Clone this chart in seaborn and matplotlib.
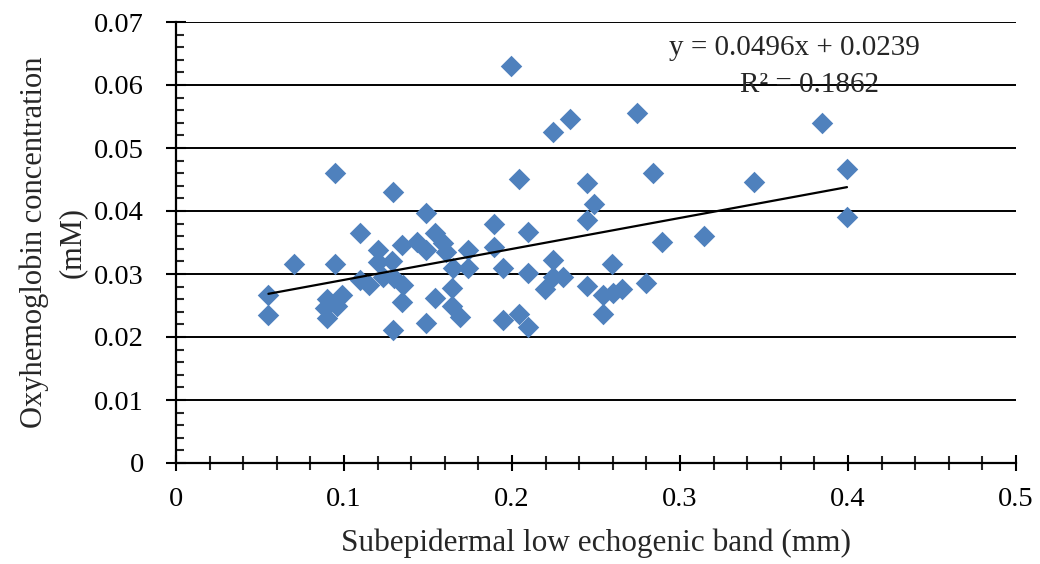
import numpy as np
import pandas as pd
import matplotlib
matplotlib.use("Agg")
import matplotlib.pyplot as plt
from matplotlib.ticker import MultipleLocator
import seaborn as sns

# Data
band_mm = [0.055, 0.055, 0.070, 0.0946, 0.0946, 0.090, 0.0887, 0.0958, 0.090, 0.0988,
           0.1095, 0.1095, 0.115, 0.120, 0.120, 0.123, 0.1286, 0.130, 0.129, 0.129,
           0.1345, 0.135, 0.1345, 0.149, 0.1436, 0.149, 0.149, 0.154, 0.154, 0.159,
           0.161, 0.165, 0.164, 0.164, 0.169, 0.174, 0.174,
           0.189, 0.189, 0.1946, 0.1946, 0.1994, 0.204, 0.204, 0.2095, 0.2095,
           0.2095, 0.2196, 0.2244, 0.2244, 0.2244, 0.2304, 0.2345, 0.2446, 0.2446,
           0.2446, 0.249, 0.2542, 0.2542, 0.2595, 0.260, 0.2655, 0.2744, 0.2798,
           0.284, 0.289, 0.314, 0.344, 0.3845, 0.3994, 0.3994]
oxy_mM = [0.0267, 0.0235, 0.0316, 0.0460, 0.0316, 0.0260, 0.0246, 0.0250, 0.0230, 0.0267,
          0.0365, 0.0290, 0.0283, 0.0338, 0.0319, 0.0295, 0.0320, 0.0293, 0.0430, 0.0211,
          0.0346, 0.0283, 0.0256, 0.0397, 0.0351, 0.0338, 0.0222, 0.0365, 0.0262, 0.0349,
          0.0335, 0.0310, 0.0278, 0.0250, 0.0232, 0.0338, 0.0310,
          0.0380, 0.0343, 0.0310, 0.0227, 0.0630, 0.0451, 0.0237, 0.0367, 0.0301,
          0.0216, 0.0276, 0.0525, 0.0322, 0.0295, 0.0295, 0.0546, 0.0444, 0.0386,
          0.0281, 0.0411, 0.0267, 0.0237, 0.0316, 0.0270, 0.0276, 0.0556, 0.0286,
          0.0460, 0.0350, 0.0360, 0.0446, 0.0540, 0.0467, 0.0390]

x_ticks = [0, 0.1, 0.2, 0.3, 0.4, 0.5]
y_ticks = [0, 0.01, 0.02, 0.03, 0.04, 0.05, 0.06, 0.07]
x_tick_labels = ["0", "0.1", "0.2", "0.3", "0.4", "0.5"]
y_tick_labels = ["0", "0.01", "0.02", "0.03", "0.04", "0.05", "0.06", "0.07"]
eq_text = "y = 0.0496x + 0.0239"
r2_text = "R² = 0.1862"
x_label = "Subepidermal low echogenic band (mm)"
y_label = "Oxyhemoglobin concentration\n(mM)"

df = pd.DataFrame({"band": band_mm, "oxy": oxy_mM})

sns.set_style("white")
plt.rcParams["font.family"] = ["Liberation Serif", "DejaVu Serif"]

fig = plt.figure(figsize=(10.4, 5.64), dpi=100)
ax = fig.add_axes([176 / 1040, 1 - 463 / 564, 840 / 1040, 441 / 564])

ax.set_axisbelow(True)
for yv in y_ticks[1:]:
    ax.axhline(yv, color="black", lw=1.4, zorder=0)

sns.scatterplot(data=df, x="band", y="oxy", marker="D", s=120, color="#4F81BD",
                linewidth=0, ax=ax, zorder=3, legend=False)
sns.regplot(data=df, x="band", y="oxy", scatter=False, ci=None, truncate=True,
            line_kws=dict(color="black", lw=1.6, zorder=4), ax=ax)

ax.set_xlim(0, 0.5)
ax.set_ylim(0, 0.07)
ax.set_xticks(x_ticks)
ax.set_xticklabels(x_tick_labels)
ax.set_yticks(y_ticks)
ax.set_yticklabels(y_tick_labels)
ax.xaxis.set_minor_locator(MultipleLocator(0.02))
ax.yaxis.set_minor_locator(MultipleLocator(0.002))

ax.tick_params(axis="x", which="major", direction="inout", length=11, width=1.5,
               pad=12, labelsize=20.5, colors="black", bottom=True)
ax.tick_params(axis="x", which="minor", direction="inout", length=10, width=1.5, bottom=True)
ax.tick_params(axis="y", which="major", direction="inout", length=14, width=1.5,
               pad=16, labelsize=20.5, colors="black", left=True)
ax.tick_params(axis="y", which="minor", direction="in", length=6, width=1.5, left=True)

for s in ["top", "right"]:
    ax.spines[s].set_visible(False)
for s in ["left", "bottom"]:
    ax.spines[s].set_color("black")
    ax.spines[s].set_linewidth(1.6)

ax.set_xlabel(x_label, fontsize=22.5, labelpad=12)
ax.set_ylabel(y_label, fontsize=22, labelpad=5, linespacing=1.4)

ax.text(0.7357, 0.941, eq_text, transform=ax.transAxes, ha="center", va="center",
        fontsize=21, zorder=5)
ax.text(0.7536, 0.857, r2_text, transform=ax.transAxes, ha="center", va="center",
        fontsize=21, zorder=5)

fig.savefig("out.png", dpi=100)
